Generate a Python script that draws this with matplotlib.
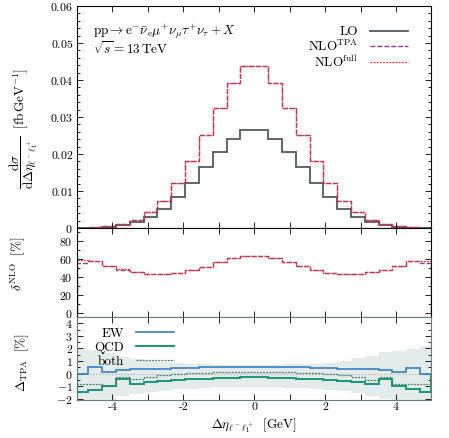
import numpy as np
import matplotlib
matplotlib.use('Agg')
import matplotlib.pyplot as plt
from matplotlib.ticker import MultipleLocator, FuncFormatter

plt.rcParams['font.family'] = ['cmr10', 'DejaVu Serif']
plt.rcParams['mathtext.fontset'] = 'cm'
plt.rcParams['axes.formatter.use_mathtext'] = True
plt.rcParams['font.size'] = 9

# ---------------- data ----------------
bin_edges = [-5.0, -4.68, -4.29, -3.90, -3.51, -3.12, -2.73, -2.34, -1.95, -1.56, -1.17, -0.78, -0.39, 0.0,
             0.39, 0.78, 1.17, 1.56, 1.95, 2.34, 2.73, 3.12, 3.51, 3.90, 4.29, 4.68, 5.0]

lo = [0.00005, 0.0001, 0.0003, 0.0008, 0.0015, 0.0031, 0.0051, 0.0083, 0.0121, 0.0164, 0.0206, 0.0241, 0.0265,
      0.0265, 0.0241, 0.0206, 0.0164, 0.0122, 0.0085, 0.0051, 0.0031, 0.0015, 0.0008, 0.0003, 0.0001, 0.00005]
nlo_tpa = [0.0001, 0.0002, 0.0004, 0.0011, 0.0022, 0.0042, 0.0074, 0.0121, 0.0181, 0.0250, 0.0323, 0.0391, 0.0438,
           0.0438, 0.0391, 0.0323, 0.0250, 0.0180, 0.0121, 0.0074, 0.0042, 0.0022, 0.0011, 0.0004, 0.0002, 0.0001]
nlo_full = [0.0001, 0.0002, 0.0004, 0.0011, 0.0022, 0.0042, 0.0074, 0.0121, 0.0181, 0.0250, 0.0323, 0.0391, 0.0438,
            0.0438, 0.0391, 0.0323, 0.0250, 0.0180, 0.0121, 0.0074, 0.0042, 0.0022, 0.0011, 0.0004, 0.0002, 0.0001]

delta_full = [58.5, 58.0, 52.5, 48.5, 45.0, 43.5, 43.3, 44.0, 47.5, 51.5, 57.0, 61.0, 64.0,
              63.8, 61.0, 57.0, 52.0, 47.5, 44.0, 43.3, 43.5, 45.0, 48.3, 52.4, 58.0, 58.0]
delta_tpa = [55.5, 57.6, 52.3, 48.3, 45.0, 43.5, 43.3, 44.0, 47.3, 51.5, 57.0, 61.0, 64.0,
             63.8, 61.0, 57.0, 52.0, 47.5, 44.0, 43.3, 43.5, 45.0, 48.0, 52.2, 57.6, 55.5]

ew = [0.0, 0.5, 0.1, 0.25, 0.33, 0.35, 0.4, 0.45, 0.45, 0.5, 0.55, 0.55, 0.55,
      0.55, 0.55, 0.55, 0.5, 0.45, 0.45, 0.4, 0.35, 0.33, 0.25, 0.1, 0.45, 0.0]
qcd = [-1.5, -1.3, -1.0, -0.45, -0.85, -0.7, -0.6, -0.5, -0.45, -0.4, -0.35, -0.32, -0.3,
       -0.3, -0.32, -0.35, -0.4, -0.45, -0.5, -0.6, -0.7, -0.85, -0.45, -1.0, -1.25, -1.45]
both = [-0.85, -0.85, -0.95, -0.3, -0.45, -0.3, -0.1, 0.0, 0.05, 0.08, 0.1, 0.12, 0.12,
        0.12, 0.12, 0.1, 0.08, 0.05, 0.0, -0.1, -0.3, -0.48, -0.3, -0.85, -0.85, -0.85]
band_hi = [1.95, 1.9, 1.6, 1.35, 1.15, 1.0, 0.9, 0.82, 0.78, 0.75, 0.72, 0.7, 0.7,
           0.7, 0.72, 0.75, 0.78, 0.8, 0.88, 1.0, 1.23, 1.41, 1.68, 1.8, 1.95, 2.2]
band_lo = [-2.6, -2.4, -2.1, -1.8, -1.6, -1.45, -1.35, -1.25, -1.2, -1.15, -1.1, -1.1, -1.1,
           -1.1, -1.1, -1.12, -1.15, -1.2, -1.28, -1.4, -1.55, -1.75, -2.0, -2.3, -2.5, -2.7]

x_ticks = [-4, -2, 0, 2, 4]

# ---------------- style ----------------
c_lo = '#505a62'
c_tpa = '#8e3c7e'
c_full = '#e8303a'
c_ew = '#3a7ec0'
c_qcd = '#17977a'
c_both = '#4a7a6a'
c_band = '#e4ebeb'

fig = plt.figure(figsize=(4.49, 4.38), dpi=100)
L, W = 0.1715, 0.7895
ax1 = fig.add_axes([L, 0.4795, W, 0.5068])
ax2 = fig.add_axes([L, 0.2763, W, 0.2032])
ax3 = fig.add_axes([L, 0.0868, W, 0.1895])


def style(ax):
    ax.set_xlim(-5, 5)
    ax.xaxis.set_major_locator(MultipleLocator(2))
    ax.xaxis.set_minor_locator(MultipleLocator(1))
    ax.tick_params(which='both', direction='in', top=True, right=True, width=0.6, labelsize=8.5)
    ax.tick_params(axis='x', which='both', length=4)
    ax.tick_params(axis='y', which='major', length=4.5, pad=3)
    ax.tick_params(axis='y', which='minor', length=2.5)
    for s in ax.spines.values():
        s.set_linewidth(0.8)


for ax in (ax1, ax2, ax3):
    style(ax)

# top panel
ax1.stairs(lo, bin_edges, color=c_lo, lw=1.3, label='LO')
ax1.stairs(nlo_tpa, bin_edges, color=c_tpa, lw=1.0, linestyle=(0, (3.5, 1.5)), label=r'NLO$^{\mathrm{TPA}}$')
ax1.stairs(nlo_full, bin_edges, color=c_full, lw=0.9, linestyle=(0, (1.5, 1.0)), label=r'NLO$^{\mathrm{full}}$')
ax1.set_ylim(0, 0.06)
ax1.yaxis.set_major_locator(MultipleLocator(0.01))
ax1.yaxis.set_minor_locator(MultipleLocator(0.002))
ax1.yaxis.set_major_formatter(FuncFormatter(lambda v, p: '$0$' if abs(v) < 1e-9 else f'${v:.2f}$'))
ax1.tick_params(axis='x', labelbottom=False)
ax1.set_ylabel(r'$\dfrac{\mathrm{d}\sigma}{\mathrm{d}\Delta\eta_{\ell^-\ell_1^+}}\ \ [\mathrm{fb\,GeV}^{-1}]$',
               ha='center', va='center', fontsize=9.5)
ax1.yaxis.set_label_coords(-0.15, 0.45)
ax1.text(0.045, 0.884, r'$\mathrm{pp}\rightarrow\mathrm{e}^{-}\bar{\nu}_{\mathrm{e}}\mu^{+}\nu_{\mu}\tau^{+}\nu_{\tau}+X$',
         transform=ax1.transAxes, ha='left', va='center', fontsize=9.5)
ax1.text(0.045, 0.81, r'$\sqrt{s}=13\,\mathrm{TeV}$', transform=ax1.transAxes, ha='left', va='center', fontsize=9.5)
leg1 = ax1.legend(loc='upper right', bbox_to_anchor=(0.953, 0.94), frameon=False, markerfirst=False,
                  handlelength=2.9, handletextpad=0.9, labelspacing=0.0, borderpad=0, fontsize=9.5)
for col in leg1._legend_handle_box.get_children():
    col.align = 'right'

# middle panel
ax2.stairs(delta_tpa, bin_edges, color=c_tpa, lw=1.0, linestyle=(0, (3.5, 1.5)))
ax2.stairs(delta_full, bin_edges, color=c_full, lw=0.9, linestyle=(0, (1.5, 1.0)))
ax2.set_ylim(-5, 95)
ax2.yaxis.set_major_locator(MultipleLocator(20))
ax2.yaxis.set_minor_locator(MultipleLocator(10))
ax2.tick_params(axis='x', labelbottom=False)
ax2.set_ylabel(r'$\delta^{\mathrm{NLO}}\ \ [\%]$', ha='center', va='center', fontsize=9.5)
ax2.yaxis.set_label_coords(-0.168, 0.6)

# bottom panel
ax3.stairs(band_hi, bin_edges, baseline=band_lo, fill=True, color=c_band, lw=0, zorder=0.5)
ax3.axhline(0, color='#b0b0b0', lw=0.9, linestyle=(0, (1, 1.5)), zorder=1)
ax3.stairs(ew, bin_edges, color=c_ew, lw=1.2, label='EW', zorder=3)
ax3.stairs(qcd, bin_edges, color=c_qcd, lw=1.4, label='QCD', zorder=3)
ax3.stairs(both, bin_edges, color=c_both, lw=0.9, linestyle=(0, (1.5, 1.0)), label='both', zorder=3)
ax3.set_ylim(-2.1, 4.5)
ax3.yaxis.set_major_locator(MultipleLocator(1))
ax3.yaxis.set_minor_locator(MultipleLocator(0.5))
ax3.set_xticks(x_ticks)
ax3.set_xticklabels([str(t) for t in x_ticks])
ax3.tick_params(axis='x', pad=2)
for s in ax3.spines.values():
    s.set_color('#6c7c7c')
ax3.set_ylabel(r'$\Delta_{\mathrm{TPA}}\ \ [\%]$', ha='center', va='center', fontsize=9.5)
ax3.yaxis.set_label_coords(-0.155, 0.45)
ax3.set_xlabel(r'$\Delta\eta_{\ell^-\ell_1^+}\ \ [\mathrm{GeV}]$', fontsize=9.5, labelpad=3)
leg3 = ax3.legend(loc='upper left', bbox_to_anchor=(0.03, 0.95), frameon=False, markerfirst=False,
                  handlelength=2.9, handletextpad=0.9, labelspacing=0.12, borderpad=0, fontsize=9.5)
for col in leg3._legend_handle_box.get_children():
    col.align = 'right'

fig.savefig('out.png', dpi=100)
